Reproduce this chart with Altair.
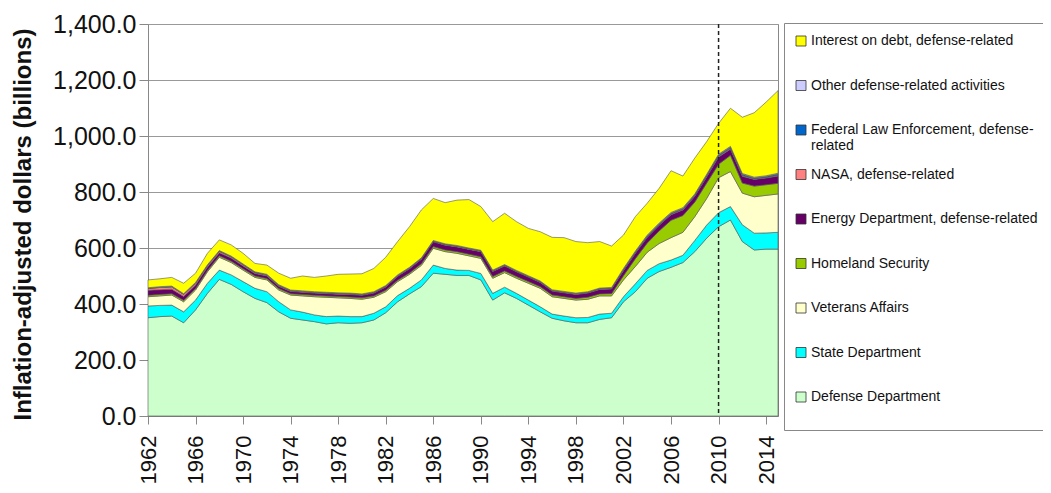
import altair as alt
import pandas as pd

years = list(range(1962, 2016))

series_names = [
    "Defense Department",
    "State Department",
    "Veterans Affairs",
    "Homeland Security",
    "Energy Department, defense-related",
    "NASA, defense-related",
    "Federal Law Enforcement, defense-related",
    "Other defense-related activities",
    "Interest on debt, defense-related",
]
colors = ["#CCFFCC", "#00FFFF", "#FFFFCC", "#99CC00", "#660066",
          "#FF8080", "#0066CC", "#CCCCFF", "#FFFF00"]

defense = [351, 355, 357, 333, 379, 438, 488, 470, 444, 420,
           405, 372, 349, 343, 337, 329, 333, 331, 333, 343,
           369, 408, 436, 462, 510, 506, 502, 502, 486, 414,
           440, 420, 396, 372, 349, 340, 333, 333, 345, 351,
           408, 444, 492, 516, 531, 548, 587, 635, 676, 700,
           623, 593, 596, 596]
state = [42, 40, 39, 39, 35, 36, 33, 34, 36, 36,
         39, 36, 30, 28, 24, 26, 24, 24, 22, 24,
         21, 22, 20, 24, 29, 21, 19, 18, 23, 24,
         20, 18, 18, 18, 15, 17, 18, 19, 19, 16,
         18, 28, 28, 28, 26, 26, 40, 47, 50, 48,
         60, 60, 58, 60]
veterans = [33, 34, 36, 36, 36, 41, 46, 44, 41, 39,
            42, 42, 53, 58, 65, 69, 65, 65, 62, 57,
            54, 50, 50, 52, 60, 60, 60, 52, 54, 54,
            52, 54, 60, 66, 62, 63, 63, 65, 65, 62,
            60, 62, 65, 72, 80, 82, 85, 95, 125, 125,
            113, 130, 134, 137]
homeland = [5, 5, 5, 5, 5, 5, 5, 5, 5, 5,
            5, 5, 5, 5, 5, 5, 5, 5, 5, 5,
            5, 5, 5, 6, 6, 6, 6, 6, 6, 6,
            6, 6, 6, 6, 6, 6, 6, 7, 7, 8,
            15, 28, 33, 45, 62, 60, 52, 55, 48, 58,
            36, 38, 38, 38]
energy = [18, 17, 16, 14, 13, 12, 11, 11, 10, 9,
          9, 8, 8, 8, 8, 8, 8, 9, 9, 10,
          12, 14, 15, 16, 17, 17, 17, 17, 18, 18,
          18, 17, 16, 15, 14, 14, 14, 15, 16, 17,
          18, 19, 20, 20, 20, 20, 21, 22, 26, 22,
          24, 24, 24, 26]
nasa = [6, 8, 8, 7, 6, 5, 5, 4, 4, 3,
        3, 3, 2, 2, 2, 2, 2, 2, 2, 2,
        2, 2, 2, 2, 2, 2, 2, 2, 2, 2,
        2, 2, 2, 2, 2, 2, 2, 2, 2, 2,
        2, 2, 2, 2, 2, 2, 2, 3, 3, 3,
        3, 2, 2, 3]
law_enforcement = [1, 1, 1, 1, 1, 1, 1, 1, 1, 1,
                   1, 1, 1, 1, 1, 1, 1, 1, 1, 1,
                   1, 1, 1, 1, 1, 1, 1, 1, 1, 1,
                   1, 1, 1, 1, 1, 1, 1, 1, 1, 1,
                   3, 3, 3, 3, 3, 3, 3, 3, 4, 4,
                   4, 3, 3, 4]
other = [2, 2, 2, 2, 2, 2, 2, 2, 2, 2,
         2, 2, 2, 2, 2, 2, 2, 2, 2, 2,
         2, 2, 2, 2, 2, 2, 2, 2, 2, 2,
         2, 2, 2, 2, 2, 2, 2, 2, 2, 2,
         3, 3, 3, 3, 3, 3, 3, 3, 3, 3,
         3, 3, 3, 3]
interest = [28, 28, 31, 37, 33, 41, 38, 40, 38, 30,
            33, 41, 42, 53, 51, 58, 66, 68, 72, 83,
            101, 119, 145, 171, 150, 147, 162, 173, 156, 173,
            183, 174, 169, 176, 187, 192, 184, 175, 166, 148,
            119, 123, 114, 124, 149, 113, 128, 117, 110, 136,
            201, 230, 263, 295]

all_series = [defense, state, veterans, homeland, energy, nasa,
              law_enforcement, other, interest]

y_ticks = [0, 200, 400, 600, 800, 1000, 1200, 1400]
marker_year = 2010

rows = []
for i, (name, vals) in enumerate(zip(series_names, all_series)):
    for yr, v in zip(years, vals):
        rows.append({"year": yr, "series": name, "value": v, "order": i})
df = pd.DataFrame(rows)

FONT = "Liberation Sans"

legend = alt.Legend(
    title=None,
    orient="none",
    direction="vertical",
    legendX=636,
    legendY=-1,
    padding=10,
    strokeColor="#888888",
    fillColor="white",
    symbolType="square",
    symbolSize=100,
    symbolStrokeColor="#333333",
    symbolStrokeWidth=0.8,
    symbolOpacity=1,
    labelFont=FONT,
    labelFontSize=14,
    labelColor="#111111",
    labelLimit=400,
    labelOffset=3,
    rowPadding=13.5,
    clipHeight=16,
    labelExpr=("datum.label == 'Federal Law Enforcement, defense-related' ? "
               "['Federal Law Enforcement, defense-', 'related'] : [datum.label, '']"),
)

area = alt.Chart(df).mark_area(stroke="#555555", strokeWidth=0.6, opacity=1).encode(
    x=alt.X(
        "year:Q",
        scale=alt.Scale(domain=[1962, 2015], nice=False, zero=False),
        axis=alt.Axis(
            values=years,
            format="d",
            grid=False,
            tickSize=8,
            tickColor="#888888",
            domainColor="#888888",
            labelExpr="(datum.value - 1962) % 4 == 0 ? datum.label : ''",
            labelAngle=270,
            labelAlign="right",
            labelBaseline="middle",
            labelFont=FONT,
            labelFontSize=22,
            labelColor="#111111",
            labelPadding=11,
            labelOverlap=False,
            labelFlush=False,
            labelBound=False,
            title=None,
        ),
    ),
    y=alt.Y(
        "value:Q",
        stack="zero",
        scale=alt.Scale(domain=[0, 1400], nice=False),
        axis=alt.Axis(
            values=y_ticks,
            format=",.1f",
            tickSize=9,
            tickColor="#888888",
            domainColor="#888888",
            gridColor="#999999",
            gridWidth=1,
            labelFont=FONT,
            labelFontSize=25,
            labelColor="#111111",
            labelPadding=3,
            title="Inflation-adjusted dollars (billions)",
            titleFont=FONT,
            titleFontSize=24,
            titleFontWeight="bold",
            titleColor="#111111",
            titleAngle=270,
            titleX=-125,
            titleY=200,
            titleAlign="center",
            titleBaseline="middle",
        ),
    ),
    color=alt.Color(
        "series:N",
        scale=alt.Scale(domain=series_names[::-1], range=colors[::-1]),
        legend=legend,
    ),
    order=alt.Order("order:Q", sort="ascending"),
)

rule = alt.Chart(pd.DataFrame({"year": [marker_year]})).mark_rule(
    color="#222222", strokeDash=[4, 3], strokeWidth=1.5
).encode(x="year:Q")

chart = alt.layer(area, rule).properties(
    width=630,
    height=392,
    autosize=alt.AutoSizeParams(type="none"),
    padding={"left": 140, "top": 16, "right": 265, "bottom": 69},
).configure_view(stroke="#888888", strokeWidth=1)

chart.save("out.html", embed_options={"renderer": "svg", "actions": False})
